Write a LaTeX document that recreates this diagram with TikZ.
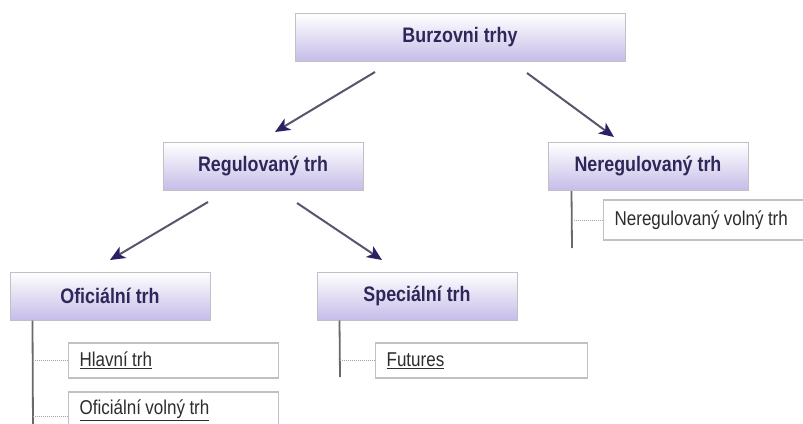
\documentclass[tikz,border=0pt]{standalone}
\usepackage{fontspec}
\setmainfont{Liberation Sans}[FakeStretch=0.85]
\usetikzlibrary{arrows.meta,calc}
\definecolor{navy}{RGB}{46,40,90}
\definecolor{lav}{RGB}{198,188,232}
\definecolor{boxborder}{RGB}{192,192,198}
\definecolor{arrowgray}{RGB}{88,86,108}
\definecolor{tipcol}{RGB}{40,34,100}
\definecolor{subtext}{RGB}{45,45,45}
\definecolor{vlinecol}{RGB}{105,105,105}
\definecolor{dotcol}{RGB}{165,165,165}
\begin{document}
\begin{tikzpicture}[x=1pt,y=-1pt,
  head/.style={draw=boxborder, line width=1pt, top color=white, bottom color=lav,
    minimum height=48pt, minimum width=200pt, inner sep=0pt,
    font=\bfseries\fontsize{21}{21}\selectfont, text=navy},
  sub/.style={draw=boxborder, line width=1.3pt, fill=white, minimum height=35pt,
    inner xsep=11pt, inner ysep=0pt, anchor=west, align=left,
    font=\fontsize{20}{20}\selectfont, text=subtext,
    execute at begin node={\spaceskip=0.22em plus 0.05em\relax}},
  arr/.style={draw=arrowgray, line width=2pt,
    -{Stealth[length=15pt,width=13pt,inset=4pt,color=tipcol]}},
  vline/.style={draw=vlinecol, line width=1.8pt},
  dotl/.style={draw=dotcol, line width=1pt, densely dotted}]
\path[use as bounding box, clip] (0,0) rectangle (803,423);
\fill[white] (0,0) rectangle (803,423);

% heading boxes
\node[head, minimum width=330pt] (burz) at (460,37.5) {Burzovni trhy};
\node[head] (reg)   at (263,166.5) {Regulovaný trh};
\node[head] (nereg) at (648,166.5) {Neregulovaný trh};
\node[head] (off)   at (110,296)   {Oficiální trh};
\node[head] (spec)  at (417,296)   {Speciální trh};

% sub boxes
\node[sub, text width=188pt] (hlavni) at (68,360.5) {\underline{Hlavní trh}};
\node[sub, text width=188pt, minimum height=36pt] (offv) at (68,410) {\underline{Oficiální volný trh}};
\node[sub, text width=190pt] (fut) at (375,360.5) {\underline{Futures}};
\node[sub, text width=200pt, minimum height=40pt] (nerv) at (603,220) {Neregulovaný volný trh};

% arrows
\coordinate (a1s) at (375,72);  \coordinate (a1e) at (275,132);
\coordinate (a2s) at (527,73);  \coordinate (a2e) at (614,137);
\coordinate (a3s) at (208,202); \coordinate (a3e) at (110,260);
\coordinate (a4s) at (297,203); \coordinate (a4e) at (382,260);
\draw[arr] (a1s) -- (a1e);
\draw[arr] (a2s) -- (a2e);
\draw[arr] (a3s) -- (a3e);
\draw[arr] (a4s) -- (a4e);

% tree lines
\coordinate (offtop)  at ([xshift=23pt]off.south west);
\coordinate (offbot)  at (33,430);
\coordinate (spectop) at ([xshift=23pt]spec.south west);
\coordinate (specbot) at (340,377);
\coordinate (nertop)  at ([xshift=24pt]nereg.south west);
\coordinate (nerbot)  at (572,248);
\draw[vline] (offtop) -- (offbot);
\draw[vline] (spectop) -- (specbot);
\draw[vline] (nertop) -- (nerbot);
\draw[dotl] (offtop |- hlavni.west) -- (hlavni.west);
\draw[dotl] ([yshift=-6pt]offtop |- offv.west) -- ([yshift=-6pt]offv.west);
\draw[dotl] (spectop |- fut.west) -- (fut.west);
\draw[dotl] (nertop |- nerv.west) -- (nerv.west);
\end{tikzpicture}
\end{document}
